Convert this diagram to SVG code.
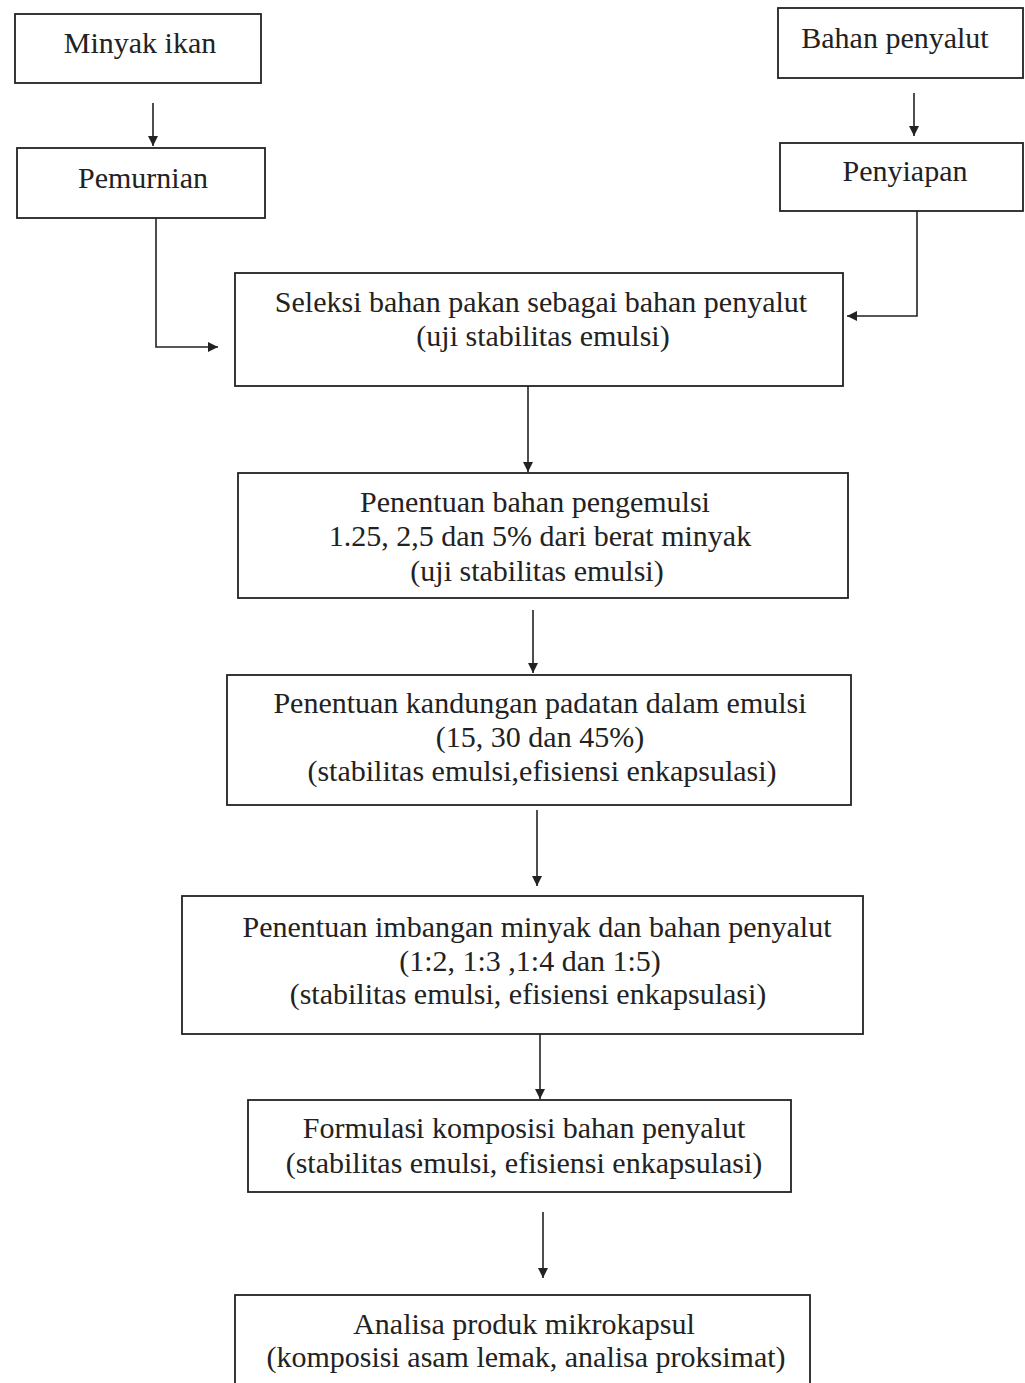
<svg xmlns="http://www.w3.org/2000/svg" width="1025" height="1383" viewBox="0 0 1025 1383">
<defs>
<marker id="ah" viewBox="0 0 10 10" refX="10" refY="5" markerWidth="10" markerHeight="10" markerUnits="userSpaceOnUse" orient="auto">
<path d="M0,0 L10,5 L0,10 z" fill="#222"/>
</marker>
<style>
.box{fill:#fff;stroke:#222;stroke-width:1.8}
.t{font-family:"Liberation Serif","Times New Roman",serif;font-size:30px;fill:#222;text-anchor:middle}
.c{fill:none;stroke:#222;stroke-width:1.6}
</style>
</defs>
<rect width="1025" height="1383" fill="#fff"/>
<g id="connectors">
<path class="c" d="M153,103 V146" marker-end="url(#ah)"/>
<path class="c" d="M914,93 V136" marker-end="url(#ah)"/>
<path class="c" d="M156,218 V347 H218" marker-end="url(#ah)"/>
<path class="c" d="M917,211 V316 H847" marker-end="url(#ah)"/>
<path class="c" d="M528,386 V472" marker-end="url(#ah)"/>
<path class="c" d="M533,610 V673" marker-end="url(#ah)"/>
<path class="c" d="M537,810 V886" marker-end="url(#ah)"/>
<path class="c" d="M540,1034 V1099" marker-end="url(#ah)"/>
<path class="c" d="M543,1212 V1278" marker-end="url(#ah)"/>
</g>
<g id="n1"><rect class="box" x="15" y="14" width="246" height="69"/><text class="t" x="140" y="53">Minyak ikan</text></g>
<g id="n2"><rect class="box" x="17" y="148" width="248" height="70"/><text class="t" x="143" y="188">Pemurnian</text></g>
<g id="n3"><rect class="box" x="778" y="8" width="245" height="70"/><text class="t" x="895" y="48">Bahan penyalut</text></g>
<g id="n4"><rect class="box" x="780" y="143" width="243" height="68"/><text class="t" x="905" y="181">Penyiapan</text></g>
<g id="n5"><rect class="box" x="235" y="273" width="608" height="113"/><text class="t" x="541" y="312">Seleksi bahan pakan sebagai bahan penyalut</text><text class="t" x="543" y="346">(uji stabilitas emulsi)</text></g>
<g id="n6"><rect class="box" x="238" y="473" width="610" height="125"/><text class="t" x="535" y="512">Penentuan bahan pengemulsi</text><text class="t" x="540" y="546">1.25, 2,5 dan 5% dari berat minyak</text><text class="t" x="537" y="581">(uji stabilitas emulsi)</text></g>
<g id="n7"><rect class="box" x="227" y="675" width="624" height="130"/><text class="t" x="540" y="713">Penentuan kandungan padatan dalam emulsi</text><text class="t" x="540" y="747">(15, 30 dan 45%)</text><text class="t" x="542" y="781">(stabilitas emulsi,efisiensi enkapsulasi)</text></g>
<g id="n8"><rect class="box" x="182" y="896" width="681" height="138"/><text class="t" x="537" y="937">Penentuan imbangan minyak dan bahan penyalut</text><text class="t" x="530" y="971">(1:2, 1:3 ,1:4 dan 1:5)</text><text class="t" x="528" y="1004">(stabilitas emulsi, efisiensi enkapsulasi)</text></g>
<g id="n9"><rect class="box" x="248" y="1100" width="543" height="92"/><text class="t" x="524" y="1138">Formulasi komposisi bahan penyalut</text><text class="t" x="524" y="1173">(stabilitas emulsi, efisiensi enkapsulasi)</text></g>
<g id="n10"><rect class="box" x="235" y="1295" width="575" height="100"/><text class="t" x="524" y="1334">Analisa produk mikrokapsul</text><text class="t" x="526" y="1367">(komposisi asam lemak, analisa proksimat)</text></g>
</svg>
